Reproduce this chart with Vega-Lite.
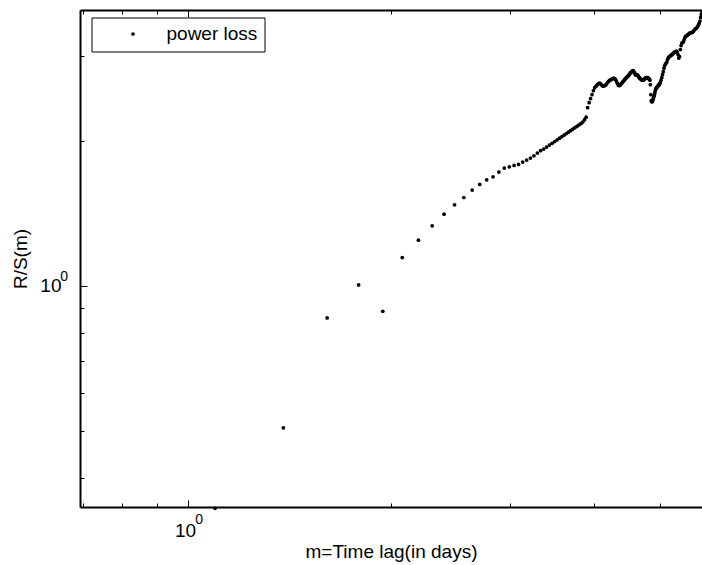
{
  "$schema": "https://vega.github.io/schema/vega-lite/v6.json",
  "width": 622,
  "height": 497,
  "autosize": {"type": "none"},
  "padding": {"left": 80, "top": 10, "right": 0, "bottom": 58},
  "background": "white",
  "config": {
    "view": {"stroke": null},
    "axis": {"grid": false, "domainColor": "black", "tickColor": "black", "tickWidth": 1, "labelColor": "black", "titleColor": "black", "labelFont": "Liberation Sans", "titleFont": "Liberation Sans", "labelFlush": false, "labelOverlap": false, "titleFontWeight": "normal"}
  },
  "data": {
    "values": [
      {"lag": 1.0986, "rs": 0.3455}, {"lag": 1.3863, "rs": 0.5075}, {"lag": 1.6094, "rs": 0.8580}, {"lag": 1.7918, "rs": 1.0048},
      {"lag": 1.9459, "rs": 0.8860}, {"lag": 2.0794, "rs": 1.1452}, {"lag": 2.1972, "rs": 1.2446}, {"lag": 2.3026, "rs": 1.3327},
      {"lag": 2.3979, "rs": 1.4095}, {"lag": 2.4849, "rs": 1.4737}, {"lag": 2.5649, "rs": 1.5261}, {"lag": 2.6391, "rs": 1.5811},
      {"lag": 2.7081, "rs": 1.6240}, {"lag": 2.7726, "rs": 1.6610}, {"lag": 2.8332, "rs": 1.6851}, {"lag": 2.8904, "rs": 1.7234},
      {"lag": 2.9444, "rs": 1.7567}, {"lag": 2.9957, "rs": 1.7677}, {"lag": 3.0445, "rs": 1.7787}, {"lag": 3.0910, "rs": 1.7872},
      {"lag": 3.1355, "rs": 1.8079}, {"lag": 3.1781, "rs": 1.8253}, {"lag": 3.2189, "rs": 1.8429}, {"lag": 3.2581, "rs": 1.8632},
      {"lag": 3.2958, "rs": 1.8875}, {"lag": 3.3322, "rs": 1.9084}, {"lag": 3.3673, "rs": 1.9240}, {"lag": 3.4012, "rs": 1.9425},
      {"lag": 3.4340, "rs": 1.9603}, {"lag": 3.4657, "rs": 1.9772}, {"lag": 3.4965, "rs": 1.9943}, {"lag": 3.5264, "rs": 2.0106},
      {"lag": 3.5553, "rs": 2.0261}, {"lag": 3.5835, "rs": 2.0417}, {"lag": 3.6109, "rs": 2.0564}, {"lag": 3.6376, "rs": 2.0712},
      {"lag": 3.6636, "rs": 2.0851}, {"lag": 3.6889, "rs": 2.1002}, {"lag": 3.7136, "rs": 2.1133}, {"lag": 3.7377, "rs": 2.1265},
      {"lag": 3.7612, "rs": 2.1397}, {"lag": 3.7842, "rs": 2.1510}, {"lag": 3.8067, "rs": 2.1645}, {"lag": 3.8286, "rs": 2.1759},
      {"lag": 3.8501, "rs": 2.1916}, {"lag": 3.8712, "rs": 2.2137}, {"lag": 3.8918, "rs": 2.2404}, {"lag": 3.9120, "rs": 2.3444},
      {"lag": 3.9318, "rs": 2.4012}, {"lag": 3.9512, "rs": 2.4476}, {"lag": 3.9703, "rs": 2.4950}, {"lag": 3.9890, "rs": 2.5432},
      {"lag": 4.0073, "rs": 2.5800}, {"lag": 4.0254, "rs": 2.5986}, {"lag": 4.0431, "rs": 2.6173}, {"lag": 4.0604, "rs": 2.6298},
      {"lag": 4.0775, "rs": 2.6362}, {"lag": 4.0943, "rs": 2.6236}, {"lag": 4.1109, "rs": 2.6048}, {"lag": 4.1271, "rs": 2.5986},
      {"lag": 4.1431, "rs": 2.6048}, {"lag": 4.1589, "rs": 2.6110}, {"lag": 4.1744, "rs": 2.6298}, {"lag": 4.1897, "rs": 2.6488},
      {"lag": 4.2047, "rs": 2.6615}, {"lag": 4.2195, "rs": 2.6743}, {"lag": 4.2341, "rs": 2.6807}, {"lag": 4.2485, "rs": 2.6871},
      {"lag": 4.2627, "rs": 2.6936}, {"lag": 4.2767, "rs": 2.7000}, {"lag": 4.2905, "rs": 2.6936}, {"lag": 4.3041, "rs": 2.6807},
      {"lag": 4.3175, "rs": 2.6551}, {"lag": 4.3307, "rs": 2.6298}, {"lag": 4.3438, "rs": 2.6110}, {"lag": 4.3567, "rs": 2.6048},
      {"lag": 4.3694, "rs": 2.6110}, {"lag": 4.3820, "rs": 2.6236}, {"lag": 4.3944, "rs": 2.6362}, {"lag": 4.4067, "rs": 2.6488},
      {"lag": 4.4188, "rs": 2.6615}, {"lag": 4.4308, "rs": 2.6743}, {"lag": 4.4427, "rs": 2.6871}, {"lag": 4.4543, "rs": 2.7000},
      {"lag": 4.4659, "rs": 2.7065}, {"lag": 4.4773, "rs": 2.7195}, {"lag": 4.4886, "rs": 2.7260}, {"lag": 4.4998, "rs": 2.7391},
      {"lag": 4.5109, "rs": 2.7522}, {"lag": 4.5218, "rs": 2.7654}, {"lag": 4.5326, "rs": 2.7721}, {"lag": 4.5433, "rs": 2.7854},
      {"lag": 4.5539, "rs": 2.7921}, {"lag": 4.5643, "rs": 2.7988}, {"lag": 4.5747, "rs": 2.7921}, {"lag": 4.5850, "rs": 2.7787},
      {"lag": 4.5951, "rs": 2.7588}, {"lag": 4.6052, "rs": 2.7457}, {"lag": 4.6151, "rs": 2.7391}, {"lag": 4.6250, "rs": 2.7457},
      {"lag": 4.6347, "rs": 2.7391}, {"lag": 4.6444, "rs": 2.7325}, {"lag": 4.6540, "rs": 2.7195}, {"lag": 4.6634, "rs": 2.7065},
      {"lag": 4.6728, "rs": 2.7000}, {"lag": 4.6821, "rs": 2.6936}, {"lag": 4.6913, "rs": 2.6871}, {"lag": 4.7005, "rs": 2.6807},
      {"lag": 4.7095, "rs": 2.6743}, {"lag": 4.7185, "rs": 2.6743}, {"lag": 4.7274, "rs": 2.6743}, {"lag": 4.7362, "rs": 2.6807},
      {"lag": 4.7449, "rs": 2.6871}, {"lag": 4.7536, "rs": 2.6936}, {"lag": 4.7622, "rs": 2.7000}, {"lag": 4.7707, "rs": 2.7000},
      {"lag": 4.7791, "rs": 2.7065}, {"lag": 4.7875, "rs": 2.7065}, {"lag": 4.7958, "rs": 2.7065}, {"lag": 4.8040, "rs": 2.7000},
      {"lag": 4.8122, "rs": 2.7000}, {"lag": 4.8203, "rs": 2.6936}, {"lag": 4.8283, "rs": 2.6871}, {"lag": 4.8363, "rs": 2.6743},
      {"lag": 4.8442, "rs": 2.6173}, {"lag": 4.8520, "rs": 2.4950}, {"lag": 4.8598, "rs": 2.4243}, {"lag": 4.8675, "rs": 2.4127},
      {"lag": 4.8752, "rs": 2.4127}, {"lag": 4.8828, "rs": 2.4243}, {"lag": 4.8903, "rs": 2.4418}, {"lag": 4.8978, "rs": 2.4594},
      {"lag": 4.9053, "rs": 2.4771}, {"lag": 4.9127, "rs": 2.4950}, {"lag": 4.9200, "rs": 2.5190}, {"lag": 4.9273, "rs": 2.5432},
      {"lag": 4.9345, "rs": 2.5615}, {"lag": 4.9416, "rs": 2.5738}, {"lag": 4.9488, "rs": 2.5800}, {"lag": 4.9558, "rs": 2.5862},
      {"lag": 4.9628, "rs": 2.5923}, {"lag": 4.9698, "rs": 2.5986}, {"lag": 4.9767, "rs": 2.6048}, {"lag": 4.9836, "rs": 2.6110},
      {"lag": 4.9904, "rs": 2.6173}, {"lag": 4.9972, "rs": 2.6298}, {"lag": 5.0039, "rs": 2.6362}, {"lag": 5.0106, "rs": 2.6425},
      {"lag": 5.0239, "rs": 2.6743}, {"lag": 5.0370, "rs": 2.7065}, {"lag": 5.0499, "rs": 2.7457}, {"lag": 5.0626, "rs": 2.7854},
      {"lag": 5.0752, "rs": 2.8324}, {"lag": 5.0876, "rs": 2.8665}, {"lag": 5.0999, "rs": 2.8872}, {"lag": 5.1120, "rs": 2.9010},
      {"lag": 5.1240, "rs": 2.9149}, {"lag": 5.1358, "rs": 2.9500}, {"lag": 5.1475, "rs": 2.9713}, {"lag": 5.1591, "rs": 2.9856},
      {"lag": 5.1705, "rs": 2.9927}, {"lag": 5.1818, "rs": 2.9999}, {"lag": 5.1930, "rs": 3.0071}, {"lag": 5.2040, "rs": 3.0143},
      {"lag": 5.2149, "rs": 3.0215}, {"lag": 5.2257, "rs": 3.0288}, {"lag": 5.2364, "rs": 3.0361}, {"lag": 5.2470, "rs": 3.0506},
      {"lag": 5.2627, "rs": 3.0580}, {"lag": 5.2781, "rs": 3.0652}, {"lag": 5.2933, "rs": 3.0726}, {"lag": 5.3083, "rs": 3.0580},
      {"lag": 5.3230, "rs": 3.0215}, {"lag": 5.3375, "rs": 2.9713}, {"lag": 5.3519, "rs": 2.9927}, {"lag": 5.3660, "rs": 3.0947},
      {"lag": 5.3799, "rs": 3.1545}, {"lag": 5.3936, "rs": 3.1925}, {"lag": 5.4072, "rs": 3.2001}, {"lag": 5.4205, "rs": 3.2078},
      {"lag": 5.4337, "rs": 3.2387}, {"lag": 5.4467, "rs": 3.2698}, {"lag": 5.4596, "rs": 3.2934}, {"lag": 5.4723, "rs": 3.3013},
      {"lag": 5.4848, "rs": 3.3092}, {"lag": 5.4972, "rs": 3.3172}, {"lag": 5.5094, "rs": 3.3251}, {"lag": 5.5215, "rs": 3.3331},
      {"lag": 5.5373, "rs": 3.3491}, {"lag": 5.5530, "rs": 3.3523}, {"lag": 5.5683, "rs": 3.3571}, {"lag": 5.5835, "rs": 3.3571},
      {"lag": 5.5984, "rs": 3.3652}, {"lag": 5.6131, "rs": 3.3813}, {"lag": 5.6276, "rs": 3.3975}, {"lag": 5.6419, "rs": 3.4138},
      {"lag": 5.6560, "rs": 3.4220}, {"lag": 5.6699, "rs": 3.4302}, {"lag": 5.6836, "rs": 3.4467}, {"lag": 5.6971, "rs": 3.4632},
      {"lag": 5.7104, "rs": 3.4882}, {"lag": 5.7236, "rs": 3.5134}, {"lag": 5.7366, "rs": 3.5472}, {"lag": 5.7494, "rs": 3.6071},
      {"lag": 5.7621, "rs": 3.6593}, {"lag": 5.7746, "rs": 3.6945}
    ]
  },
  "layer": [
    {
      "mark": {"type": "point", "filled": true, "size": 14, "opacity": 1},
      "encoding": {
        "x": {"field": "lag", "type": "quantitative", "scale": {"type": "log", "domain": [0.6931, 5.777], "nice": false},
          "axis": {"orient": "bottom", "values": [0.7, 0.8, 0.9, 2, 3, 4, 5], "tickSize": -4, "labels": false, "domain": true, "domainWidth": 2, "title": null}},
        "y": {"field": "rs", "type": "quantitative", "scale": {"type": "log", "domain": [0.3476, 3.7396], "nice": false},
          "axis": {"orient": "left", "values": [0.4, 0.5, 0.6, 0.7, 0.8, 0.9, 2, 3], "tickSize": -4, "labels": false, "domain": true, "domainWidth": 2, "title": null}},
        "color": {"datum": "power loss", "scale": {"range": ["black"]},
          "legend": {"orient": "none", "legendX": 11.5, "legendY": 7.5, "title": null, "padding": 7, "strokeColor": "black", "fillColor": "white",
            "symbolType": "circle", "symbolSize": 14, "symbolStrokeWidth": 0, "symbolFillColor": "black", "symbolOffset": 25, "labelOffset": 24,
            "labelFont": "Liberation Sans", "labelFontSize": 19, "labelColor": "black"}}
      }
    },
    {
      "mark": {"type": "point", "opacity": 0},
      "encoding": {
        "x": {"field": "lag", "type": "quantitative", "scale": {"type": "log", "domain": [0.6931, 5.777], "nice": false},
          "axis": {"orient": "bottom", "values": [1], "tickSize": -7, "labels": false, "domain": false, "title": null}},
        "y": {"field": "rs", "type": "quantitative", "scale": {"type": "log", "domain": [0.3476, 3.7396], "nice": false},
          "axis": {"orient": "left", "values": [1], "tickSize": -7, "labels": false, "domain": false, "title": null}}
      }
    },
    {
      "mark": {"type": "point", "opacity": 0},
      "encoding": {
        "x": {"field": "lag", "type": "quantitative", "scale": {"type": "log", "domain": [0.6931, 5.777], "nice": false},
          "axis": {"orient": "bottom", "values": [1], "ticks": false, "domain": false, "labelExpr": "'10'", "labelFontSize": 19, "labelAlign": "center", "labelBaseline": "alphabetic", "labelPadding": 29, "labelOffset": -2.5,
            "title": "m=Time lag(in days)", "titleFontSize": 19, "titleX": 311, "titleY": 50, "titleAlign": "center", "titleBaseline": "alphabetic", "titleAngle": 0}},
        "y": {"field": "rs", "type": "quantitative", "scale": {"type": "log", "domain": [0.3476, 3.7396], "nice": false},
          "axis": {"orient": "left", "values": [1], "ticks": false, "domain": false, "labelExpr": "'10'", "labelFontSize": 19, "labelAlign": "right", "labelBaseline": "middle", "labelPadding": 19,
            "title": "R/S(m)", "titleFontSize": 19, "titleX": -54, "titleY": 248.5, "titleAlign": "center", "titleBaseline": "alphabetic", "titleAngle": -90}}
      }
    },
    {
      "mark": {"type": "point", "opacity": 0},
      "encoding": {
        "x": {"field": "lag", "type": "quantitative", "scale": {"type": "log", "domain": [0.6931, 5.777], "nice": false},
          "axis": {"orient": "bottom", "values": [1], "ticks": false, "domain": false, "labelExpr": "'0'", "labelFontSize": 14, "labelAlign": "center", "labelBaseline": "alphabetic", "labelPadding": 16, "labelOffset": 11, "title": null}},
        "y": {"field": "rs", "type": "quantitative", "scale": {"type": "log", "domain": [0.3476, 3.7396], "nice": false},
          "axis": {"orient": "left", "values": [1], "ticks": false, "domain": false, "labelExpr": "'0'", "labelFontSize": 14, "labelAlign": "right", "labelBaseline": "middle", "labelPadding": 12.5, "labelOffset": -9.5, "title": null}}
      }
    },
    {
      "mark": {"type": "point", "opacity": 0},
      "encoding": {
        "x": {"field": "lag", "type": "quantitative", "scale": {"type": "log", "domain": [0.6931, 5.777], "nice": false},
          "axis": {"orient": "top", "values": [0.7, 0.8, 0.9, 2, 3, 4, 5], "tickSize": -4, "labels": false, "domain": true, "domainWidth": 2, "title": null}},
        "y": {"field": "rs", "type": "quantitative", "scale": {"type": "log", "domain": [0.3476, 3.7396], "nice": false}, "axis": null}
      }
    },
    {
      "mark": {"type": "point", "opacity": 0},
      "encoding": {
        "x": {"field": "lag", "type": "quantitative", "scale": {"type": "log", "domain": [0.6931, 5.777], "nice": false},
          "axis": {"orient": "top", "values": [1], "tickSize": -7, "labels": false, "domain": false, "title": null}},
        "y": {"field": "rs", "type": "quantitative", "scale": {"type": "log", "domain": [0.3476, 3.7396], "nice": false}, "axis": null}
      }
    }
  ],
  "resolve": {"axis": {"x": "independent", "y": "independent"}}
}
